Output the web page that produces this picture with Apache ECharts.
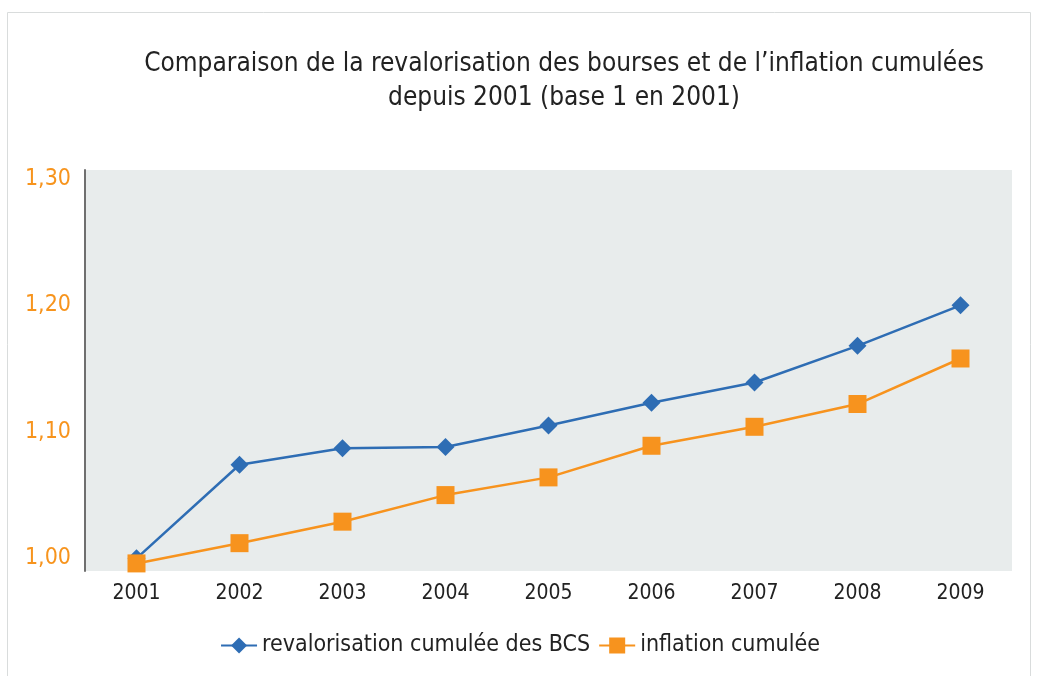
<!DOCTYPE html>
<html>
<head>
<meta charset="utf-8">
<style>
    html, body { margin: 0; padding: 0; background: #fff; }
    #main { width: 1040px; height: 676px; }
</style>
</head>
<body>
<div id="main"></div>
<script src="https://cdn.jsdelivr.net/npm/echarts@6/dist/echarts.min.js"></script>
<script>
    // données
    var years = ['2001', '2002', '2003', '2004', '2005', '2006', '2007', '2008', '2009'];
    var bourses = [1.000, 1.074, 1.087, 1.088, 1.105, 1.123, 1.139, 1.168, 1.200];
    var inflation = [0.996, 1.012, 1.029, 1.050, 1.064, 1.089, 1.104, 1.122, 1.158];
    var yTicks = [1.00, 1.10, 1.20, 1.30];

    var font = "'Liberation Sans Narrow', 'DejaVu Sans Condensed', sans-serif";

    var option = {
        backgroundColor: '#fff',
        title: {
            text: 'Comparaison de la revalorisation des bourses et de l\u2019inflation cumulées\ndepuis 2001 (base 1 en 2001)',
            left: 559,
            top: 42,
            textAlign: 'center',
            textStyle: {
                fontFamily: font,
                fontWeight: 'normal',
                fontSize: 26,
                lineHeight: 34,
                color: '#222'
            }
        },
        graphic: [{
            type: 'rect',
            shape: { x: 7.5, y: 12.5, width: 1023, height: 680 },
            style: { fill: 'none', stroke: '#d9dcdc', lineWidth: 1 },
            z: -1
        }],
        legend: {
            bottom: 14,
            left: 'center',
            itemWidth: 36,
            itemHeight: 20,
            itemGap: 8,
            textStyle: { fontFamily: font, fontSize: 23, color: '#222' },
            data: ['revalorisation cumulée des BCS', 'inflation cumulée']
        },
        grid: {
            left: 85,
            right: 28,
            top: 170,
            bottom: 105,
            show: true,
            backgroundColor: '#e8ecec',
            borderWidth: 0
        },
        xAxis: {
            type: 'category',
            data: years,
            boundaryGap: true,
            axisLine: { show: false },
            axisTick: { show: false },
            axisLabel: {
                fontFamily: font,
                fontSize: 21,
                color: '#222',
                margin: 12
            }
        },
        yAxis: {
            type: 'value',
            min: 0.99,
            max: 1.307,
            interval: 0.01,
            splitLine: { show: false },
            axisTick: { show: false },
            axisLine: { show: true, lineStyle: { color: '#6f6f6f', width: 2 } },
            axisLabel: {
                fontFamily: font,
                fontSize: 23,
                color: '#f7941d',
                margin: 14,
                showMaxLabel: false,
                formatter: function (v) {
                    for (var i = 0; i < yTicks.length; i++) {
                        if (Math.abs(v - yTicks[i]) < 0.001) {
                            return yTicks[i].toFixed(2).replace('.', ',');
                        }
                    }
                    return '';
                }
            }
        },
        series: [
            {
                name: 'revalorisation cumulée des BCS',
                type: 'line',
                data: bourses,
                symbol: 'diamond',
                symbolSize: 18,
                color: '#2e6db4',
                lineStyle: { width: 2.5, color: '#2e6db4' },
                itemStyle: { color: '#2e6db4' },
                z: 2
            },
            {
                name: 'inflation cumulée',
                type: 'line',
                data: inflation,
                symbol: 'rect',
                symbolSize: 18,
                color: '#f7931e',
                lineStyle: { width: 2.5, color: '#f7931e' },
                itemStyle: { color: '#f7931e' },
                z: 3
            }
        ]
    };

    var myChart = echarts.init(document.getElementById('main'));
    myChart.setOption(option);
</script>
</body>
</html>
